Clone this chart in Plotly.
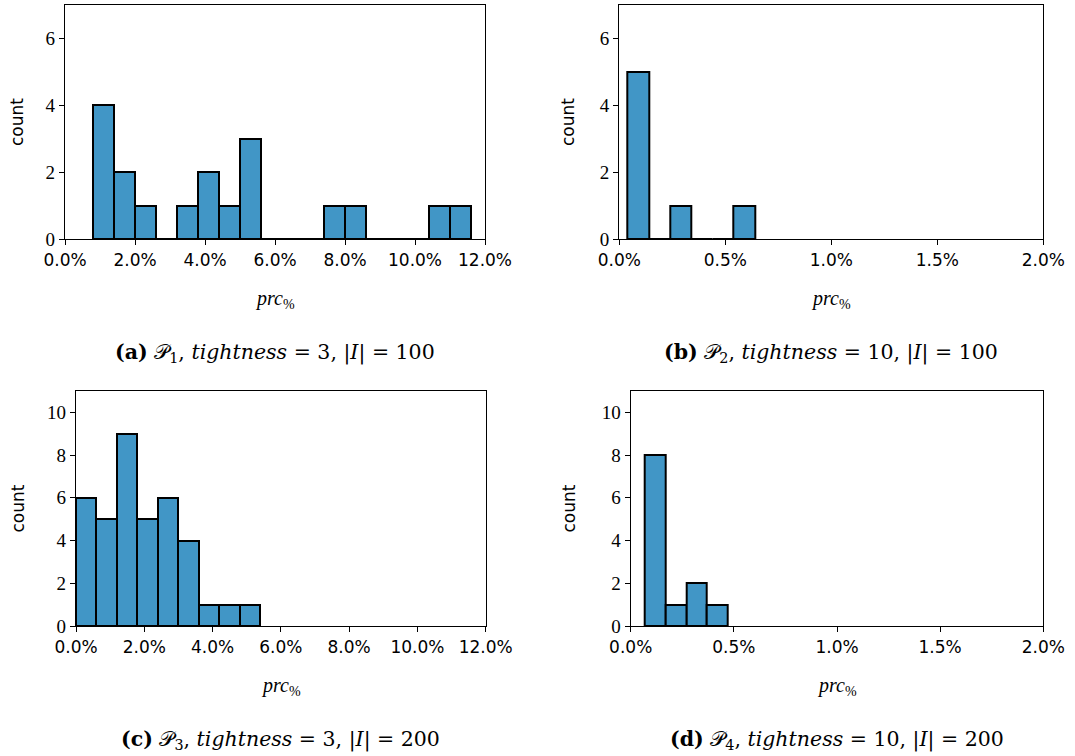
import plotly.graph_objects as go

# ---------------- data (values in percent) ----------------
edges_a = [0.8, 1.4, 2.0, 2.6, 3.2, 3.8, 4.4, 5.0, 5.6, 6.2, 6.8, 7.4, 8.0, 8.6, 9.2, 9.8, 10.4, 11.0, 11.6]
counts_a = [4, 2, 1, 0, 1, 2, 1, 3, 0, 0, 0, 1, 1, 0, 0, 0, 1, 1]

edges_b = [0.04, 0.14, 0.24, 0.34, 0.44, 0.54, 0.64]
counts_b = [5, 0, 1, 0, 0, 1]

edges_c = [0.0, 0.6, 1.2, 1.8, 2.4, 3.0, 3.6, 4.2, 4.8, 5.4]
counts_c = [6, 5, 9, 5, 6, 4, 1, 1, 1]

edges_d = [0.07, 0.17, 0.27, 0.37, 0.47]
counts_d = [8, 1, 2, 1]

xticks_wide = [0, 2, 4, 6, 8, 10, 12]
xticklabels_wide = ["0.0%", "2.0%", "4.0%", "6.0%", "8.0%", "10.0%", "12.0%"]
xticks_narrow = [0, 0.5, 1.0, 1.5, 2.0]
xticklabels_narrow = ["0.0%", "0.5%", "1.0%", "1.5%", "2.0%"]

yticks_top = [0, 2, 4, 6]
yticks_bottom = [0, 2, 4, 6, 8, 10]

captions = [
    "<b>(a)</b> 𝒫<sub>1</sub>, <i>tightness</i> = 3, |<i>I</i>| = 100",
    "<b>(b)</b> 𝒫<sub>2</sub>, <i>tightness</i> = 10, |<i>I</i>| = 100",
    "<b>(c)</b> 𝒫<sub>3</sub>, <i>tightness</i> = 3, |<i>I</i>| = 200",
    "<b>(d)</b> 𝒫<sub>4</sub>, <i>tightness</i> = 10, |<i>I</i>| = 200",
]

# ---------------- layout geometry ----------------
W, H = 1075, 756
BAR_COLOR = "#4196c6"
SERIF = "DejaVu Serif, Liberation Serif, serif"
SERIF_TICK = "Liberation Serif, DejaVu Serif, serif"
SANS = "DejaVu Sans, sans-serif"

panels = [
    # edges, counts, xrange, xticks, xlabels, yrange, yticks, px-box (x0,x1,ytop,ybot)
    (edges_a, counts_a, [0, 12], xticks_wide, xticklabels_wide, [0, 7], yticks_top, (65, 485, 5, 239)),
    (edges_b, counts_b, [0, 2], xticks_narrow, xticklabels_narrow, [0, 7], yticks_top, (619.3, 1043.3, 5, 239)),
    (edges_c, counts_c, [0, 12], xticks_wide, xticklabels_wide, [0, 11], yticks_bottom, (76, 485.7, 391, 626)),
    (edges_d, counts_d, [0, 2], xticks_narrow, xticklabels_narrow, [0, 11], yticks_bottom, (630.7, 1043.3, 391, 626)),
]

fig = go.Figure()
annotations = []

for i, (edges, counts, xr, xt, xl, yr, yt, box) in enumerate(panels):
    n = i + 1
    xa = "x" if n == 1 else f"x{n}"
    ya = "y" if n == 1 else f"y{n}"
    centers = [(edges[k] + edges[k + 1]) / 2 for k in range(len(counts))]
    widths = [edges[k + 1] - edges[k] for k in range(len(counts))]
    fig.add_trace(go.Bar(
        x=centers, y=counts, width=widths,
        marker=dict(color=BAR_COLOR, line=dict(color="black", width=2)),
        xaxis=xa, yaxis=ya, showlegend=False,
    ))
    x0, x1, yt_px, yb_px = box
    xdom = [x0 / W, x1 / W]
    ydom = [1 - yb_px / H, 1 - yt_px / H]
    axkey = "" if n == 1 else str(n)
    fig.update_layout(**{
        f"xaxis{axkey}": dict(
            domain=xdom, range=xr, anchor=ya, automargin=False,
            tickvals=xt, ticktext=xl,
            tickfont=dict(family=SANS, size=17, color="black"),
            showline=True, linecolor="black", linewidth=1.4, mirror=True,
            ticks="outside", ticklen=5, tickwidth=1.4, tickcolor="black",
            showgrid=False, zeroline=False,
        ),
        f"yaxis{axkey}": dict(
            domain=ydom, range=yr, anchor=xa, automargin=False,
            tickvals=yt, ticktext=[str(v) for v in yt],
            tickfont=dict(family=SERIF_TICK, size=19, color="black"),
            showline=True, linecolor="black", linewidth=1.4, mirror=True,
            ticks="outside", ticklen=5, tickwidth=1.4, tickcolor="black",
            showgrid=False, zeroline=False,
        ),
    })
    cx = (x0 + x1) / 2
    # x label
    annotations.append(dict(
        x=cx / W, y=1 - (yb_px + 60) / H, xref="paper", yref="paper",
        text="<i>prc</i><sub>%</sub>", showarrow=False,
        font=dict(family=SERIF_TICK, size=20, color="black"),
        xanchor="center", yanchor="middle",
    ))
    # y label
    lx = 17 if n in (1, 3) else 568
    annotations.append(dict(
        x=lx / W, y=1 - ((yt_px + yb_px) / 2) / H, xref="paper", yref="paper",
        text="count", textangle=-90, showarrow=False,
        font=dict(family=SANS, size=17, color="black"),
        xanchor="center", yanchor="middle",
    ))
    # caption
    annotations.append(dict(
        x=cx / W, y=1 - (yb_px + 114) / H, xref="paper", yref="paper",
        text=captions[i], showarrow=False,
        font=dict(family=SERIF, size=20.5, color="black"),
        xanchor="center", yanchor="middle",
    ))

fig.update_layout(
    template="none",
    width=W, height=H,
    margin=dict(l=0, r=0, t=0, b=0),
    paper_bgcolor="white", plot_bgcolor="white",
    bargap=0, annotations=annotations,
)

fig.write_html(
    "out.html",
    config={"displayModeBar": False},
    post_script="document.body.style.margin='0';document.body.style.overflow='hidden';",
)
